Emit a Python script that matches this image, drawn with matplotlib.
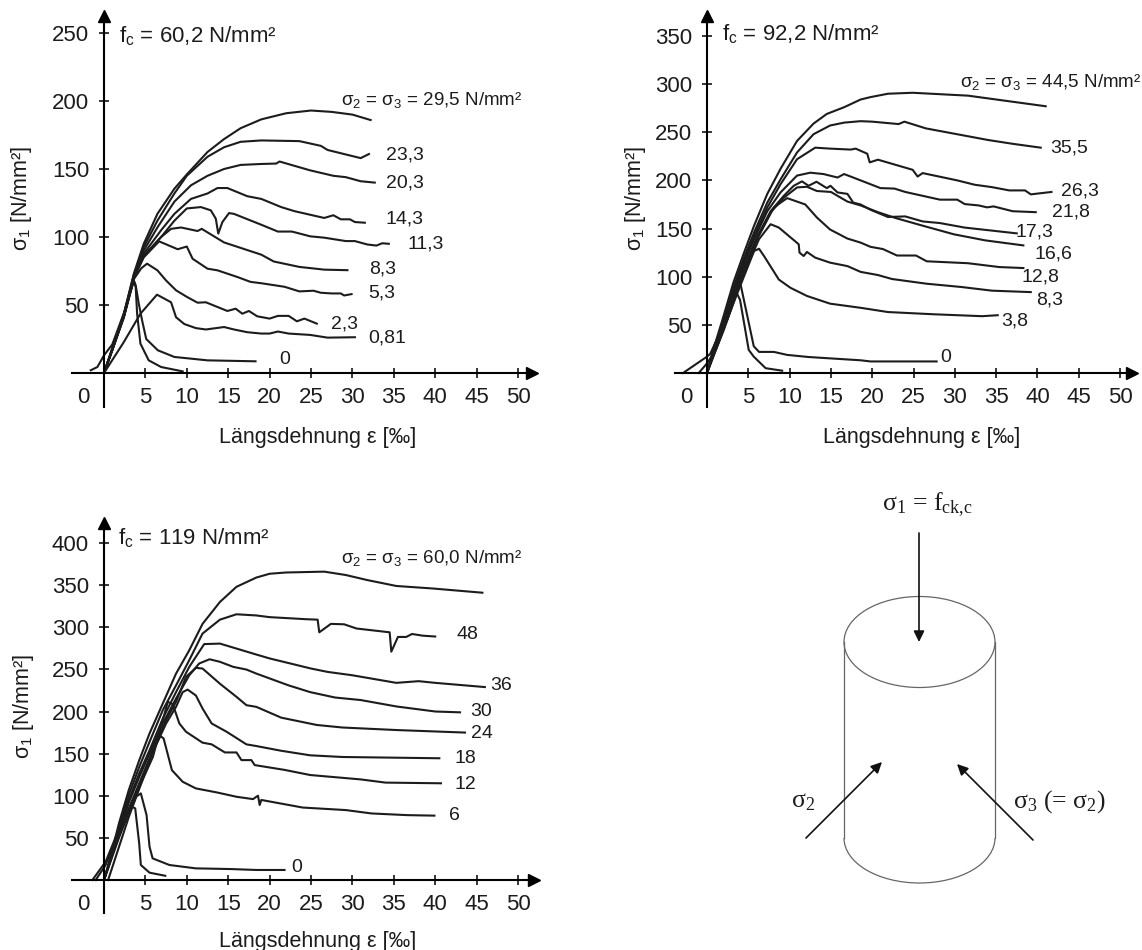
import matplotlib
matplotlib.use('Agg')
import matplotlib.pyplot as plt
from matplotlib.patches import Arc

plt.rcParams['font.family'] = ['Liberation Sans', 'DejaVu Sans']
plt.rcParams['mathtext.default'] = 'regular'
INK = '#1c1c1c'

# ---------- Panel 1: fc = 60.2 ----------
p1_295_x = [0,1,2.4,3.6,4.8,6.45,8.5,10,12.5,14.5,16.5,19,22,25,27.5,30,32.2]
p1_295_y = [0,18,43.6,73,95,117,135.5,146,162.5,172,180,186.5,191,193,192,190,186]
p1_233_x = [0,1,2.4,3.6,4.8,6.45,8.5,10,12.5,14.5,16.5,19,23.6,26.2,27,31,32]
p1_233_y = [0,18,43,72,92.6,112,132,145,159,166,170,171,170.5,167,164,158,161]
p1_203_x = [0,1,2.4,3.6,4.8,6.45,8.5,10.5,12.5,14.5,16.5,19,20.8,21.2,24.9,27.7,29.2,31,32.7]
p1_203_y = [0,18,43,71,90,107,126,138,145,150,153,153.7,154,155.5,149,145,144,141,140]
p1_143_x = [0,1,2.4,3.6,4.8,6.9,8.5,10.5,12.5,13.7,14.9,17.3,19,21.4,23,26.6,27.7,28.6,29.7,30.3,31.5]
p1_143_y = [0,17,42,70,87.7,105,117,128,132,136,136,130,128,122,119,114,116,113,113,111,110.5]
p1_113_x = [0,1,2.4,3.6,4.8,6.9,8.5,10,11.7,12.9,13.5,13.8,14.3,15.1,15.7,19,21,22.7,24.9,26.6,29.2,30.3,31.8,32.9,33.6,34.4]
p1_113_y = [0,17,42,70,86,100,112,121,122,119.6,113.5,102.5,111,117.6,117,109,104,104,100.5,99.5,97,97,94.5,93.7,95.4,95]
p1_83_x = [0,1,2.4,3.6,4.8,6.9,8.1,9.3,11.3,11.8,14.5,19,20.5,23.6,26.6,29.4]
p1_83_y = [0,17,42,70,86,100,106,107,104.4,106,96,87,82,78,76,75.6]
p1_53_x = [0,1,2.4,3.6,4.8,6.65,8.9,10,10.7,12.5,13.7,16.1,17.7,19,21.8,23.6,25.3,26.2,27.5,28.6,29,29.9]
p1_53_y = [0,17,41,70,85,96.8,91,93,84,76.7,75.5,70.6,67,66,63.4,60,60.5,59,58.5,58.5,57,58]
p1_23_x = [0,1,2.4,3.6,4.5,5.2,6.45,7.5,8.7,10,11.3,12.3,14.9,15.9,16.7,17.5,18.5,20,21,22.3,23.3,24.2,25.7]
p1_23_y = [0,17,41,69,77,80.4,75.5,68,60.8,56,51.7,52,45.6,47.3,43.6,45.6,41.7,40,42,42,38,40,36.3]
p1_081_x = [0,2.4,4.4,6.4,8.1,8.7,9.7,11.1,12.3,14.5,15.7,17.3,19,20,21,22.3,24.9,27,30.3]
p1_081_y = [0,22.8,43.6,57.6,52,41,36,33,32,33.8,32,30,29,29,30.5,29,28,26,26.3]
p1_0a_x = [-1.6,-0.8,0,1,2.4,3.6,3.83,4.2,4.6,5.1,6.5,8.5,12.5,18.3]
p1_0a_y = [2,4.4,13,21,44,68,64.5,51,38.7,25,16.7,11.8,9.3,8.6]
p1_0b_x = [0,1,2.4,3.6,3.83,4,4.4,5.4,6.9,9.5]
p1_0b_y = [0,17,42,68,63,43.6,21.6,9.3,4.4,1.2]
p1_labels = ['23,3','20,3','14,3','11,3','8,3','5,3','2,3','0,81','0']
p1_label_x = [36.3,36.3,36.3,38.8,33.6,33.6,29.1,34.2,21.8]
p1_label_y = [160.5,140,113,94.6,76.8,59,36,26,10]

# ---------- Panel 2: fc = 92.2 ----------
p2_445_x = [0,0.4,2,3.2,4.4,5.7,7.3,8.9,10.9,12.9,14.5,16.6,18.6,19.8,21.9,24.9,31.6,41]
p2_445_y = [0,14,59,94,123,153,186,212,241,259,269,276,284,286.5,290,291,288,277]
p2_355_x = [0,2,3.2,4.4,5.7,7.3,8.9,10.9,12.9,14.9,16.6,18.6,20,23.2,23.9,26.5,34,37,40.4]
p2_355_y = [0,55,88.5,118,146,177,201,229,248,257,260,261.5,261,258.5,261,254,242,238,234]
p2_263_x = [0,2,3.2,4.4,5.7,7.3,8.9,10.9,13.1,14.9,17.4,18,19.4,19.7,20.7,24.9,25.5,26.1,30.3,32.4,34.5,36.6,38.5,39.2,41.7]
p2_263_y = [0,53,85,114,142,172,196,222,234,233,232,233,227.7,218.7,221.5,211,204,207.6,200,195.5,193,189.6,189.6,185.5,188]
p2_218_x = [0,2,3.2,4.4,5.7,7.3,8.9,10.9,12.5,14.1,15.8,16.6,18.6,21,22.7,24,28.2,30.3,31.2,32.9,33.9,34.7,37,39.8]
p2_218_y = [0,52,84,112,139,168,187.5,205,208,206.6,203,206.6,200,192,191.5,188,180,180,175.4,174,172,173,168,167]
p2_173_x = [0,2,3.2,4.4,6.1,7.7,9.3,10.5,11.5,12.3,13.25,14.5,14.95,15.8,17,17.7,18.6,19.8,21.9,24,26.1,28.2,31.2,37.5]
p2_173_y = [0,51,82,108,142,168,184,194.4,199,194.4,198.6,192,194.4,187.5,186,177,175,169.5,162,162.6,157.4,155.7,151,145]
p2_166_x = [0,2,3.2,4.4,6.1,7.7,9.3,10.9,12.1,13.3,15,17,18.6,20.7,22.8,26.1,29.9,33.7,38.3]
p2_166_y = [0,50,80,106,140.6,166.7,182,192.7,193.4,189,188,178,174,167,161,153,144,137.7,132.5]
p2_128_x = [0,2,3.2,4.4,6,8.1,9.7,11.9,13.3,14.9,17,18.6,19.8,21.3,23,25.3,26.6,31.6,35.4,38.3]
p2_128_y = [0,49,78,104,138,172,181.6,175,161.5,149,139.6,135.4,131,128.7,122,122,116,114,110,109]
p2_83_x = [0,2,3.2,4.4,6.3,7.7,8.7,11.1,11.2,11.7,12.1,13.1,14.9,17,18.6,20.7,22.4,26.6,30.8,34.5,39.2]
p2_83_y = [0,47,76,102,139,154.5,151,133.7,125,121.5,125.7,119.8,114.6,111,105,101.7,97.6,92.7,89.3,85.5,84]
p2_38_x = [0,2,3,4,5.7,6.3,6.9,8.7,10.1,12.1,14.9,18.6,21.9,27.4,33.3,35.2]
p2_38_y = [0,44,68,90,126.7,129,121.5,97,88.5,80,72,67.7,63.3,61,59,60]
p2_0a_x = [-2.9,0,0.4,2,3,4.04,5.66,6.3,8.1,9.7,12.3,18.6,19.8,27.8]
p2_0a_y = [0,17,20,50,72,93,27.8,21.9,21.9,18.8,16.6,13.2,12,12]
p2_0b_x = [-1,0,1,2,3,3.6,4,5.05,5.66,7.1,9.1]
p2_0b_y = [0,10,23,45,68,83,76,24,17,5,2.4]
p2_labels = ['35,5','26,3','21,8','17,3','16,6','12,8','8,3','3,8','0']
p2_label_x = [43.9,45.2,44,39.7,41.9,40.4,41.5,37.3,28.9]
p2_label_y = [233.6,188.6,166.8,146.4,123.5,100,76,53.6,15.6]

# ---------- Panel 3: fc = 119 ----------
p3_600_x = [0,0.6,1.8,3,4.25,5.5,7.1,8.7,10.3,11.9,14,16,18.4,20,22,26.6,29.2,31.8,35.3,39.7,45.7]
p3_600_y = [0,20,67,107,142,174,209.5,245,272.7,304,330,348,359,363.5,365,366,362,356,349,346,341]
p3_48_x = [0,1.8,3,4.25,5.5,7.1,8.7,10.3,11.9,14,16,18.4,20,24.5,25.8,26,27.4,29,30.5,34.5,34.7,35.5,36.5,37.2,38.5,40]
p3_48_y = [0,62,101,134,164,201.6,231,261,292.5,309,315.4,314,312,309.5,309,294,304,303.5,298.5,294,271,288.5,288.5,292,290,289]
p3_36_x = [0,1.8,3,4.25,5.5,7.1,8.7,10.3,12.1,14,16,18.4,20,25,27,30,35.3,38,40,46]
p3_36_y = [0,58,95,126.5,154,191.7,223,253,280,280.6,274.7,267.6,263,251,247,243,234,236,234,229]
p3_30_x = [0,1.8,3,4.25,5.5,7.1,8.7,10.3,11.5,12.75,14,15.6,17.2,18.4,22.3,24.9,27.9,31,35.3,40,43]
p3_30_y = [0,56,92,122,150,185.8,215.4,243,257,262,259,253,249.8,245,231,223,216.6,213.6,206,200,199]
p3_24_x = [0,1.8,3,4.25,5.9,7.5,8.7,9.9,11.1,11.9,14,16,17.2,18.4,21.4,25.7,28.8,35.3,43.6]
p3_24_y = [0,54,85,114.6,154,189.7,211.5,241,251.8,251,233,217.4,207.5,205.5,192.7,184,181,178,175]
p3_18_x = [0,1.8,3,4.25,5.9,7.5,8.7,9.5,10.1,11.1,11.9,13,14.8,17.2,18.4,21.4,24.9,28.8,40.5]
p3_18_y = [0,52,83,112,152,185.8,205.5,223,226,219,203.6,185.8,176,161,159,153.4,148,146,144.5]
p3_12_x = [0,1.8,3,4.25,5.9,7.7,8.3,9.1,9.9,11.9,13,14.6,16,16.6,17.8,18.2,21.8,24.9,31,34,40.7]
p3_12_y = [0,50,80,110,146,211.5,208.7,185.8,176,163,161,151.4,151.4,142.3,142.3,136.4,130.7,124.6,119.4,115.6,114.8]
p3_6_x = [0.5,3,4.65,5.9,6.8,7.2,8.2,9.5,11.1,13.6,16,18,18.4,18.6,18.8,19,24,29.2,32.3,36.6,39.9]
p3_6_y = [0,75,118.6,154,171,168,130.4,116.6,108.7,104,98.8,96,98.8,100,89,95,86,83,79,77,76.4]
p3_0a_x = [-1.4,0.2,2,3.85,4.45,5.14,5.5,5.87,7.9,11.1,15.3,18.4,21.8]
p3_0a_y = [0,21.7,65,98.8,102.8,77,39.5,25.7,17.8,13.8,13,11.9,11.9]
p3_0b_x = [-1,0.2,1.8,3.24,3.77,4.25,4.45,5.5,7.4]
p3_0b_y = [0,17.8,59,87.7,85,43.5,17.8,8.7,5]
p3_labels = ['48','36','30','24','18','12','6','0']
p3_label_x = [43.9,48,45.5,45.7,43.6,43.6,42.3,23.3]
p3_label_y = [291.9,231,200,174,144.6,113.7,76,14.6]

x_ticks = [5,10,15,20,25,30,35,40,45,50]
W, H = 1142, 950
fig = plt.figure(figsize=(W/100, H/100), dpi=100)


def panel(x0, pxu, y0, pyu, left, right, top, bottom, yticks, curves, labels, lx, ly,
          fc_text, fc_x, fc_y, top_text, top_x, top_y, ylab_px, ylab_py, xlab_px, xlab_py):
    ax = fig.add_axes([left/W, 1-bottom/H, (right-left)/W, (bottom-top)/H])
    ax.set_xlim((left-x0)/pxu, (right-x0)/pxu)
    ax.set_ylim((y0-bottom)/pyu, (y0-top)/pyu)
    ax.patch.set_alpha(0)
    for s in ['top', 'right']:
        ax.spines[s].set_visible(False)
    for s in ['left', 'bottom']:
        ax.spines[s].set_position(('data', 0))
        ax.spines[s].set_linewidth(1.5)
        ax.spines[s].set_color('black')
    ax.set_xticks(x_ticks)
    ax.set_yticks(yticks)
    ax.tick_params(axis='both', direction='inout', length=7.5, width=1.1, labelsize=16,
                   colors='black', labelcolor=INK)
    ax.tick_params(axis='x', pad=6)
    ax.tick_params(axis='y', pad=7)
    ax.plot(1, 0, '>', ms=8, color='black', transform=ax.get_yaxis_transform(), clip_on=False)
    ax.plot(0, 1, '^', ms=9, color='black', transform=ax.get_xaxis_transform(), clip_on=False)
    ax.annotate('0', xy=(-2.5, 0), xytext=(0, -9.75), textcoords='offset points',
                ha='center', va='top', fontsize=16, color=INK)
    for cx, cy in curves:
        ax.plot(cx, cy, color=INK, lw=1.5, solid_joinstyle='round')
    for t, a, b in zip(labels, lx, ly):
        ax.text(a, b, t, ha='center', va='center', fontsize=14, color=INK)
    ax.text(fc_x, fc_y, fc_text, ha='left', va='center', fontsize=16, color=INK)
    ax.text(top_x, top_y, top_text, ha='center', va='center', fontsize=13.5, color=INK)
    fig.text(ylab_px/W, 1-ylab_py/H, 'σ$_{1}$ [N/mm²]', rotation=90, ha='center', va='center',
             fontsize=15.5, color=INK)
    fig.text(xlab_px/W, 1-xlab_py/H, 'Längsdehnung ε [‰]', ha='center', va='center',
             fontsize=15.5, color=INK)
    return ax


panel(104, 8.28, 373, 1.36, 72, 532, 16, 407, [50,100,150,200,250],
      [(p1_295_x,p1_295_y),(p1_233_x,p1_233_y),(p1_203_x,p1_203_y),(p1_143_x,p1_143_y),
       (p1_113_x,p1_113_y),(p1_83_x,p1_83_y),(p1_53_x,p1_53_y),(p1_23_x,p1_23_y),
       (p1_081_x,p1_081_y),(p1_0a_x,p1_0a_y),(p1_0b_x,p1_0b_y)],
      p1_labels, p1_label_x, p1_label_y,
      'f$_{c}$ = 60,2 N/mm²', 1.8, 248,
      'σ$_{2}$ = σ$_{3}$ = 29,5 N/mm²', 39.6, 200.7, 22, 198, 318, 437)

panel(707, 8.26, 373, 0.963, 675, 1132, 16, 407, [50,100,150,200,250,300,350],
      [(p2_445_x,p2_445_y),(p2_355_x,p2_355_y),(p2_263_x,p2_263_y),(p2_218_x,p2_218_y),
       (p2_173_x,p2_173_y),(p2_166_x,p2_166_y),(p2_128_x,p2_128_y),(p2_83_x,p2_83_y),
       (p2_38_x,p2_38_y),(p2_0a_x,p2_0a_y),(p2_0b_x,p2_0b_y)],
      p2_labels, p2_label_x, p2_label_y,
      'f$_{c}$ = 92,2 N/mm²', 1.8, 352,
      'σ$_{2}$ = σ$_{3}$ = 44,5 N/mm²', 41.6, 301.7, 635, 198, 922, 437)

panel(104, 8.28, 880, 0.8425, 72, 534, 523, 913, [50,100,150,200,250,300,350,400],
      [(p3_600_x,p3_600_y),(p3_48_x,p3_48_y),(p3_36_x,p3_36_y),(p3_30_x,p3_30_y),
       (p3_24_x,p3_24_y),(p3_18_x,p3_18_y),(p3_12_x,p3_12_y),(p3_6_x,p3_6_y),
       (p3_0a_x,p3_0a_y),(p3_0b_x,p3_0b_y)],
      p3_labels, p3_label_x, p3_label_y,
      'f$_{c}$ = 119 N/mm²', 1.7, 406,
      'σ$_{2}$ = σ$_{3}$ = 60,0 N/mm²', 39.6, 382, 23, 706, 318, 941)

# ---------- Cylinder sketch (pixel coordinates) ----------
sk = fig.add_axes([0, 0, 1, 1], zorder=5)
sk.set_xlim(0, W)
sk.set_ylim(H, 0)
sk.axis('off')
sk.patch.set_alpha(0)
GR = '#666666'
cx, cw = 919.5, 151
sk.add_patch(Arc((cx, 642), cw, 91, lw=0.9, color=GR))
sk.add_patch(Arc((cx, 838), cw, 90, theta1=0, theta2=180, lw=0.9, color=GR))
sk.plot([cx-cw/2, cx-cw/2], [642, 838], color=GR, lw=0.9)
sk.plot([cx+cw/2, cx+cw/2], [642, 838], color=GR, lw=0.9)
for a, b in [((919, 533), (919, 642)), ((806, 838), (882, 762)), ((1033, 840), (957, 764))]:
    sk.annotate('', xy=b, xytext=a, arrowprops=dict(arrowstyle='-|>,head_length=0.65,head_width=0.32',
                color='#111111', lw=1.2, shrinkA=0, shrinkB=0))
sk.text(927, 505, r'σ$_{1}$ = f$_{ck{,}c}$', ha='center', va='center', fontsize=18.5, family='Liberation Serif', color=INK)
sk.text(803, 802, r'σ$_{2}$', ha='center', va='center', fontsize=18.5, family='Liberation Serif', color=INK)
sk.text(1059, 802, r'σ$_{3}$ (= σ$_{2}$)', ha='center', va='center', fontsize=18.5, family='Liberation Serif', color=INK)

fig.savefig('out.png', dpi=100, facecolor='white')
